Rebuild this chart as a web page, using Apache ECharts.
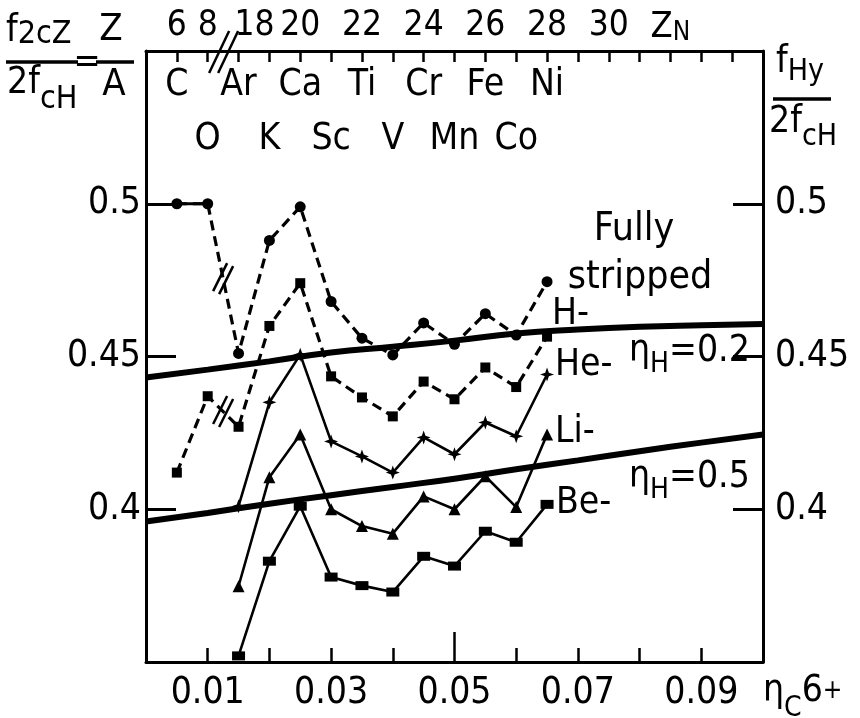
<!DOCTYPE html>
<html lang="en">
<head>
<meta charset="UTF-8">
<title>f / 2fcH vs eta C6+</title>
<script src="https://cdn.jsdelivr.net/npm/echarts@6.0.0/dist/echarts.min.js"></script>
<style>
  html, body { margin: 0; padding: 0; background: #fff; }
  #chart { width: 860px; height: 718px; }
</style>
</head>
<body>
<div id="chart"></div>
<script>
// x positions (eta C6+) of the measured elements
var elemX = [0.005, 0.01, 0.015, 0.02, 0.025, 0.03, 0.035, 0.04, 0.045, 0.05, 0.055, 0.06, 0.065];
var elemX2 = [0.015, 0.02, 0.025, 0.03, 0.035, 0.04, 0.045, 0.05, 0.055, 0.06, 0.065];

// series values
var fullyStripped = [0.500, 0.500, 0.451, 0.488, 0.499, 0.468, 0.456, 0.4505, 0.461, 0.454, 0.464, 0.457, 0.4745];
var hLike  = [0.412, 0.437, 0.427, 0.460, 0.474, 0.4435, 0.4366, 0.4304, 0.4418, 0.436, 0.4464, 0.440, 0.4565];
var heLike = [0.401, 0.435, 0.4506, 0.4222, 0.4173, 0.412, 0.4235, 0.418, 0.4284, 0.4239, 0.4441];
var liLike = [0.3748, 0.4105, 0.4245, 0.400, 0.3945, 0.392, 0.4042, 0.400, 0.4108, 0.4007, 0.4245];
var beLike = [0.352, 0.383, 0.401, 0.3778, 0.375, 0.3729, 0.3846, 0.3814, 0.3928, 0.3892, 0.4016];

// hydrogen curves
var curveX = [0, 0.01, 0.02, 0.03, 0.04, 0.05, 0.06, 0.07, 0.08, 0.09, 0.1];
var etaH02 = [0.4431, 0.4457, 0.4484, 0.4513, 0.4532, 0.4552, 0.4575, 0.4588, 0.4597, 0.4602, 0.4606];
var etaH05 = [0.3960, 0.3988, 0.4018, 0.4046, 0.4073, 0.4100, 0.4131, 0.4160, 0.4190, 0.4218, 0.4245];

// tick labels
var bottomLabels = ['0.01', '0.03', '0.05', '0.07', '0.09'];
var leftLabels = ['0.4', '0.45', '0.5'];
var zPos = [0.005, 0.01, 0.015, 0.025, 0.035, 0.045, 0.055, 0.065, 0.075, 0.085];
var zLabels = ['6', '8', '18', '20', '22', '24', '26', '28', '30', 'Z_N'];
var row1Pos = [0.005, 0.015, 0.025, 0.035, 0.045, 0.055, 0.065];
var row1 = ['C', 'Ar', 'Ca', 'Ti', 'Cr', 'Fe', 'Ni'];
var row2Pos = [0.01, 0.02, 0.03, 0.04, 0.05, 0.06];
var row2 = ['O', 'K', 'Sc', 'V', 'Mn', 'Co'];

var FONT = '"DejaVu Sans Condensed", "Liberation Sans", sans-serif';
var FS = 37;
var chart = echarts.init(document.getElementById('chart'));

function k(v) { return Math.round(v * 1000); }
function pick(pos, labels, v) {
    for (var i = 0; i < pos.length; i++) {
        if (k(pos[i]) === k(v)) return labels[i];
    }
    return '';
}
function pairs(xs, ys) {
    return xs.map(function (x, i) { return [x, ys[i]]; });
}
function sub(size, pad) {
    return { fontSize: size, fontFamily: FONT, padding: [pad, 0, 0, 0] };
}

// subscripts are pushed down with top padding
var RICH = {
    m:   { fontSize: FS, fontFamily: FONT },
    p:   { fontSize: 26, fontFamily: FONT },
    n2:  sub(32, 8),
    d2:  sub(32, 34),
    rh:  sub(30, 21),
    rc:  sub(30, 31),
    eh:  sub(28, 27),
    ec:  sub(28, 35)
};

var starPath = 'path://M0,-10L2.6,-2.6L10,0L2.6,2.6L0,10L-2.6,2.6L-10,0L-2.6,-2.6Z';

var baseLine = { type: 'line', xAxisIndex: 0, yAxisIndex: 0, animation: false, emphasis: { disabled: true }, z: 3 };
function line(extra) { return Object.assign({}, baseLine, extra); }

function yLabel(v) {
    var s = String(Math.round(v * 100) / 100);
    return leftLabels.indexOf(s) >= 0 ? s : '';
}

var option = {
    backgroundColor: '#fff',
    animation: false,
    textStyle: { fontFamily: FONT, color: '#000' },
    grid: { left: 146, right: 97, top: 51, bottom: 56 },
    xAxis: [
        {   // bottom axis
            type: 'value', position: 'bottom', min: 0, max: 0.1, interval: 0.01,
            axisLine: { onZero: false, lineStyle: { color: '#000', width: 3 } },
            axisTick: { inside: true, length: 14, lineStyle: { color: '#000', width: 2.5 } },
            splitLine: { show: false },
            axisLabel: {
                color: '#000', fontSize: FS, fontFamily: FONT, margin: 13,
                formatter: function (v) {
                    var s = v.toFixed(2);
                    return bottomLabels.indexOf(s) >= 0 ? s : '';
                }
            }
        },
        {   // long tick at 0.05
            type: 'value', position: 'bottom', min: 0, max: 0.1, interval: 0.05,
            axisLine: { show: false, onZero: false },
            axisTick: { inside: true, length: 30, lineStyle: { color: '#000', width: 2.5 } },
            axisLabel: { show: false }, splitLine: { show: false }
        },
        {   // top axis: Z of the ion
            type: 'value', position: 'top', min: 0, max: 0.1, interval: 0.005,
            axisLine: { onZero: false, lineStyle: { color: '#000', width: 3 } },
            axisTick: { inside: true, length: 11, lineStyle: { color: '#000', width: 2.5 } },
            splitLine: { show: false },
            axisLabel: {
                color: '#000', fontSize: 35, fontFamily: FONT, margin: 5, lineHeight: 40,
                formatter: function (v) {
                    var s = pick(zPos, zLabels, v);
                    if (s === '18') return '{sh|18}';
                    if (s === 'Z_N') return '{z|Z}{zs|N}';
                    return s;
                },
                rich: {
                    sh: { fontSize: 35, fontFamily: FONT, padding: [0, 0, 0, 32] },
                    z:  { fontSize: 36, lineHeight: 40, verticalAlign: 'bottom', fontFamily: FONT },
                    zs: { fontSize: 26, lineHeight: 12, verticalAlign: 'bottom', fontFamily: FONT }
                }
            }
        },
        {   // element names, first row
            type: 'value', position: 'top', min: 0, max: 0.1, interval: 0.005,
            axisLine: { show: false, onZero: false }, axisTick: { show: false }, splitLine: { show: false },
            axisLabel: {
                inside: true, margin: 16, color: '#000', fontSize: FS, fontFamily: FONT,
                formatter: function (v) { return pick(row1Pos, row1, v); }
            }
        },
        {   // element names, second row
            type: 'value', position: 'top', min: 0, max: 0.1, interval: 0.005,
            axisLine: { show: false, onZero: false }, axisTick: { show: false }, splitLine: { show: false },
            axisLabel: {
                inside: true, margin: 70, color: '#000', fontSize: FS, fontFamily: FONT,
                formatter: function (v) { return pick(row2Pos, row2, v); }
            }
        }
    ],
    yAxis: [
        {
            type: 'value', position: 'left', min: 0.35, max: 0.55, interval: 0.05,
            axisLine: { onZero: false, lineStyle: { color: '#000', width: 3 } },
            axisTick: { inside: true, length: 30, lineStyle: { color: '#000', width: 3 } },
            splitLine: { show: false },
            axisLabel: { color: '#000', fontSize: FS, fontFamily: FONT, margin: 5, formatter: yLabel }
        },
        {
            type: 'value', position: 'right', min: 0.35, max: 0.55, interval: 0.05,
            axisLine: { onZero: false, lineStyle: { color: '#000', width: 3 } },
            axisTick: { inside: true, length: 30, lineStyle: { color: '#000', width: 3 } },
            splitLine: { show: false },
            axisLabel: { color: '#000', fontSize: FS, fontFamily: FONT, margin: 12, formatter: yLabel }
        }
    ],
    series: [
        line({ name: 'etaH=0.2', data: pairs(curveX, etaH02), smooth: true, showSymbol: false, symbol: 'none',
               lineStyle: { color: '#000', width: 6 }, z: 2 }),
        line({ name: 'etaH=0.5', data: pairs(curveX, etaH05), smooth: true, showSymbol: false, symbol: 'none',
               lineStyle: { color: '#000', width: 6 }, z: 2 }),
        line({ name: 'Fully stripped', data: pairs(elemX, fullyStripped), symbol: 'circle', symbolSize: 11,
               itemStyle: { color: '#000' }, lineStyle: { color: '#000', width: 3.2, type: [10, 6] } }),
        line({ name: 'Fully stripped (C-O)', data: pairs(elemX.slice(0, 2), fullyStripped.slice(0, 2)), symbol: 'none',
               lineStyle: { color: '#000', width: 3.2 } }),
        line({ name: 'H-', data: pairs(elemX, hLike), symbol: 'rect', symbolSize: 10,
               itemStyle: { color: '#000' }, lineStyle: { color: '#000', width: 3.2, type: [10, 6] } }),
        line({ name: 'He-', data: pairs(elemX2, heLike), symbol: starPath, symbolSize: 14,
               itemStyle: { color: '#000' }, lineStyle: { color: '#000', width: 2.6 } }),
        line({ name: 'Li-', data: pairs(elemX2, liLike), symbol: 'triangle', symbolSize: 12,
               itemStyle: { color: '#000' }, lineStyle: { color: '#000', width: 2.6 } }),
        line({ name: 'Be-', data: pairs(elemX2, beLike), symbol: 'rect', symbolSize: [13, 9],
               itemStyle: { color: '#000' }, lineStyle: { color: '#000', width: 2.6 } })
    ]
};

chart.setOption(option);

// annotations
var g = [];
function txt(x, y, text, align, size) {
    g.push({ type: 'text', x: x, y: y, z: 20, silent: true,
        style: { text: text, fill: '#000', fontFamily: FONT, fontSize: size || FS,
                 align: align || 'left', verticalAlign: 'middle',
                 textAlign: align || 'left', textVerticalAlign: 'middle' } });
}
function rtxt(x, y, text) {
    g.push({ type: 'text', x: x, y: y, z: 20, silent: true,
        style: { text: text, rich: RICH, fill: '#000', fontFamily: FONT, fontSize: FS,
                 align: 'left', verticalAlign: 'middle', textAlign: 'left', textVerticalAlign: 'middle' } });
}
function seg(x1, y1, x2, y2, w) {
    g.push({ type: 'line', z: 20, silent: true, shape: { x1: x1, y1: y1, x2: x2, y2: y2 },
        style: { stroke: '#000', lineWidth: w || 3 } });
}

// left axis title  f2cZ / 2fcH = Z / A
rtxt(6, 31, '{m|f}{n2|2cZ}');
seg(6, 62, 78, 62, 3.5);
rtxt(7, 83, '{m|2f}{d2|cH}');
txt(87, 63, '=', 'center', 36);
txt(111, 30, 'Z', 'center', 38);
seg(96, 62, 134, 62, 3.5);
txt(114, 85, 'A', 'center', 38);

// right axis title  fHy / 2fcH
rtxt(776, 62, '{m|f}{rh|Hy}');
seg(773, 99, 831, 99, 3.5);
rtxt(769, 122, '{m|2f}{rc|cH}');

// bottom axis name
rtxt(763, 691, '{m|η}{ec|C}{m|6}{p|+}');

// curve and series labels
txt(634, 230, 'Fully', 'center', 39);
txt(640, 278, 'stripped', 'center', 39);
txt(552, 314, 'H-');
txt(555, 365, 'He-');
txt(555, 432, 'Li-');
txt(556, 503, 'Be-');
rtxt(629, 351, '{m|η}{eh|H}{m|=0.2}');
rtxt(629, 477, '{m|η}{eh|H}{m|=0.5}');

// axis break marks on the dashed lines, placed through the chart's scales
function breakMark(x0, y0, x1, y1) {
    var a = chart.convertToPixel({ xAxisIndex: 0, yAxisIndex: 0 }, [x0, y0]);
    var b = chart.convertToPixel({ xAxisIndex: 0, yAxisIndex: 0 }, [x1, y1]);
    var cx = (a[0] + b[0]) / 2, cy = (a[1] + b[1]) / 2;
    var hx = 7, hy = -14, ox = 3, oy = 1.5;
    seg(cx - hx - ox, cy - hy - oy, cx + hx - ox, cy + hy - oy, 2.5);
    seg(cx - hx + ox, cy - hy + oy, cx + hx + ox, cy + hy + oy, 2.5);
}
breakMark(elemX[1], fullyStripped[1], elemX[2], fullyStripped[2]);
breakMark(elemX[1], hLike[1], elemX[2], hLike[2]);

// break on the top Z axis between 8 and 18
(function () {
    var p = chart.convertToPixel({ xAxisIndex: 0, yAxisIndex: 0 }, [(zPos[1] + zPos[2]) / 2, 0.55]);
    seg(p[0] - 14, p[1] + 22, p[0] + 6, p[1] - 20, 2.5);
    seg(p[0] - 5, p[1] + 22, p[0] + 15, p[1] - 20, 2.5);
})();

chart.setOption({ graphic: g });
</script>
</body>
</html>
